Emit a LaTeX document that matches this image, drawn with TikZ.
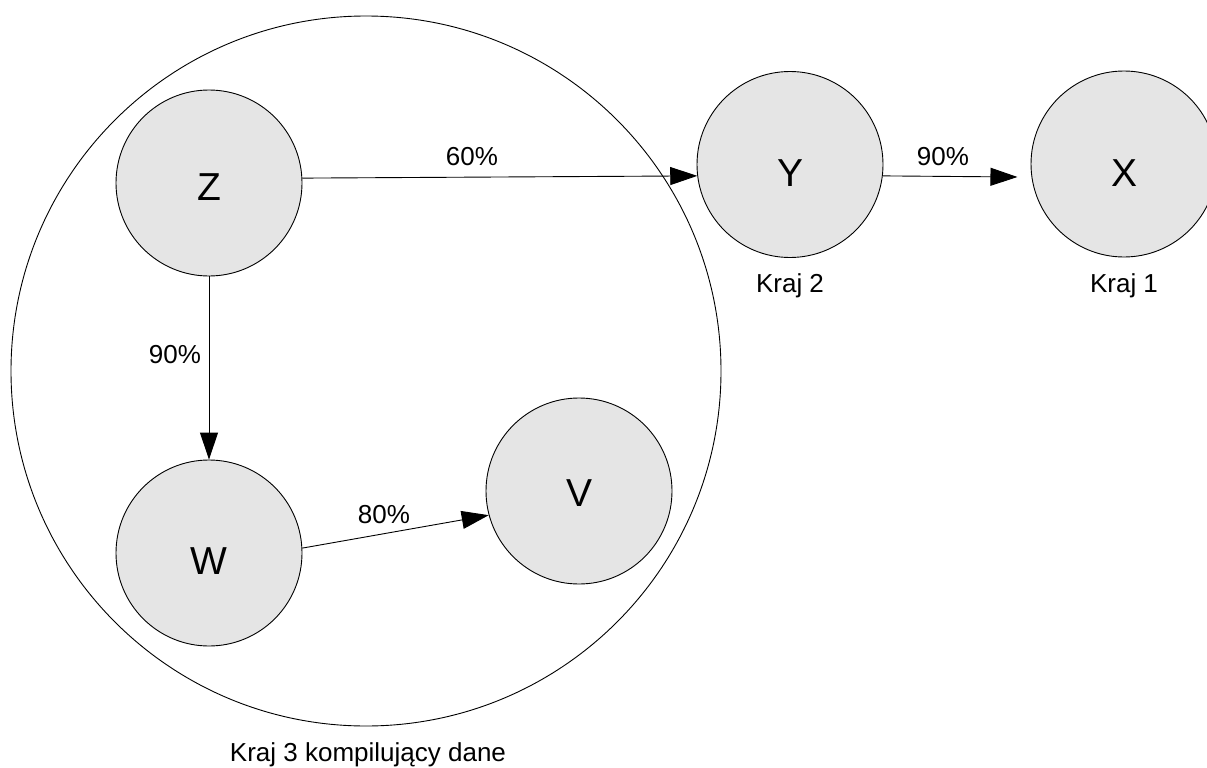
\documentclass[tikz,border=0pt]{standalone}
\usepackage{fontspec}
\setmainfont{Liberation Sans}
\usetikzlibrary{arrows.meta}
\begin{document}
\begin{tikzpicture}[x=1pt,y=-1pt,
  group/.style={circle,draw,line width=0.9pt,minimum size=710pt,inner sep=0pt},
  state/.style={circle,draw,line width=0.9pt,fill=black!10,minimum size=186pt,inner sep=0pt},
  letter/.style={font=\fontsize{39}{39}\selectfont,inner sep=0pt},
  lbl/.style={font=\fontsize{26}{26}\selectfont,anchor=base,inner sep=0pt},
  arr/.style={line width=0.9pt,-{Triangle[length=27pt,width=18pt]}}]
\useasboundingbox (0,0) rectangle (1207,768);

% country 3 (the compiling country) groups Z, W and V
\node[group] (K3) at (366,371) {};

% countries
\node[state] (Z) at (209,183) {};
\node[state] (W) at (209,553) {};
\node[state] (V) at (579,491) {};
\node[state] (Y) at (790,164.5) {};
\node[state] (X) at (1124,164) {};

% node letters
\node[letter] (Zl) at (209,187) {Z};
\node[letter] (Wl) at (209,561) {W};
\node[letter] (Vl) at (579,493) {V};
\node[letter] (Yl) at (790,173) {Y};
\node[letter] (Xl) at (1124,173) {X};

% flows
\draw[arr] (Z.3.7) -- (Y.187.7);
\draw[arr] (Y.-7.7) -- ([xshift=-14pt]X.188.1);
\draw[arr] (Z.south) -- (W.north);
\draw[arr] (W.3.7) -- (V.195.9);

% flow shares
\node[lbl] (l60) at (472,165) {60\%};
\node[lbl] (l90a) at (943,165) {90\%};
\node[lbl] (l90b) at (175,363) {90\%};
\node[lbl] (l80) at (384,523) {80\%};

% country captions
\node[lbl] (c2) at (790,292) {Kraj 2};
\node[lbl] (c1) at (1124,292) {Kraj 1};
\node[lbl] (c3) at (368,761) {Kraj 3 kompilujący dane};
\end{tikzpicture}
\end{document}
